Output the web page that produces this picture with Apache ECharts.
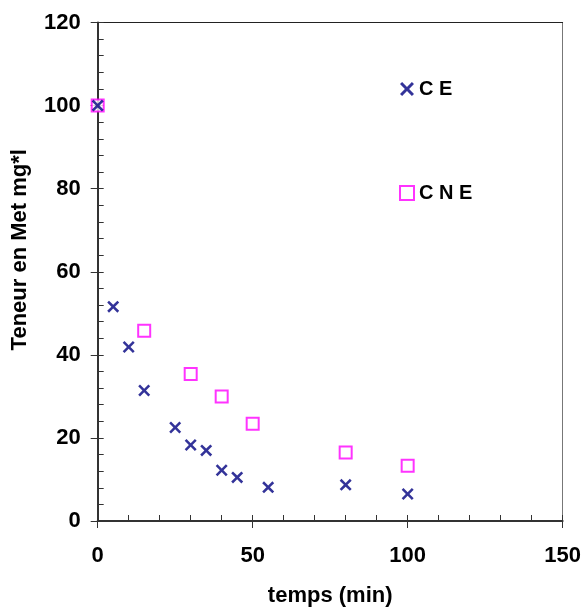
<!DOCTYPE html>
<html>
<head>
<meta charset="utf-8">
<script src="https://cdn.jsdelivr.net/npm/echarts@6/dist/echarts.min.js"></script>
<style>
html,body{margin:0;padding:0;background:#fff;}
#main{width:584px;height:612px;}
</style>
</head>
<body>
<div id="main"></div>
<script>
// Data
var timeCE = [0, 5, 10, 15, 25, 30, 35, 40, 45, 55, 80, 100];
var valCE = [100, 51.6, 41.9, 31.4, 22.5, 18.3, 17.0, 12.2, 10.5, 8.1, 8.7, 6.5];
var timeCNE = [0, 15, 30, 40, 50, 80, 100];
var valCNE = [100, 45.8, 35.4, 30.0, 23.4, 16.5, 13.3];
var seriesNames = ['C E', 'C N E'];
var xTitle = 'temps (min)';
var yTitle = 'Teneur en Met mg*l';

var FONT = '"Liberation Sans", Arial, sans-serif';
var crossPath = 'path://M0,1.5L1.5,0L5,3.5L8.5,0L10,1.5L6.5,5L10,8.5L8.5,10L5,6.5L1.5,10L0,8.5L3.5,5Z';

function pairs(xs, ys) { return xs.map(function (x, i) { return [x, ys[i]]; }); }

var chart = echarts.init(document.getElementById('main'), null, {renderer: 'canvas'});
var hidden = {show: false};
chart.setOption({
  backgroundColor: '#fff',
  animation: false,
  grid: {left: 97.7, top: 22.5, right: 20.3, bottom: 86, containLabel: false},
  legend: {
    data: seriesNames,
    orient: 'vertical',
    left: 394,
    top: 74,
    itemWidth: 14,
    itemHeight: 14,
    itemGap: 84,
    textStyle: {fontFamily: FONT, fontWeight: 'bold', fontSize: 20, color: '#000'},
    selectedMode: false
  },
  xAxis: [
    {
      type: 'value', min: 0, max: 150, interval: 50, position: 'bottom',
      name: xTitle, nameLocation: 'middle', nameGap: 64,
      nameTextStyle: {fontFamily: FONT, fontWeight: 'bold', fontSize: 22, color: '#000'},
      axisLine: {show: true, onZero: false, lineStyle: {color: '#333', width: 2}},
      axisTick: {show: true, inside: false, length: 7, lineStyle: {color: '#333', width: 1}},
      axisLabel: {fontFamily: FONT, fontWeight: 'bold', fontSize: 22, color: '#000', margin: 24},
      splitLine: hidden
    },
    {
      type: 'value', min: 0, max: 150, interval: 10, position: 'bottom',
      axisLine: hidden, axisLabel: hidden, splitLine: hidden,
      axisTick: {show: true, inside: true, length: 6, lineStyle: {color: '#333', width: 1}}
    },
    {
      type: 'value', min: 0, max: 150, position: 'top',
      axisLine: {show: true, onZero: false, lineStyle: {color: '#222', width: 1}},
      axisTick: hidden, axisLabel: hidden, splitLine: hidden
    }
  ],
  yAxis: [
    {
      type: 'value', min: 0, max: 120, interval: 20, position: 'left',
      name: yTitle, nameLocation: 'middle', nameGap: 67, nameRotate: 90,
      nameTextStyle: {fontFamily: FONT, fontWeight: 'bold', fontSize: 22, color: '#000', padding: [0, 0, 0, 44]},
      axisLine: {show: true, onZero: false, lineStyle: {color: '#333', width: 2}},
      axisTick: {show: true, inside: false, length: 7, lineStyle: {color: '#333', width: 1}},
      axisLabel: {fontFamily: FONT, fontWeight: 'bold', fontSize: 22, color: '#000', margin: 17},
      splitLine: hidden
    },
    {
      type: 'value', min: 0, max: 120, interval: 4, position: 'left',
      axisLine: hidden, axisLabel: hidden, splitLine: hidden,
      axisTick: {show: true, inside: true, length: 6, lineStyle: {color: '#333', width: 1}}
    },
    {
      type: 'value', min: 0, max: 120, position: 'right',
      axisLine: {show: true, onZero: false, lineStyle: {color: '#777', width: 1}},
      axisTick: hidden, axisLabel: hidden, splitLine: hidden
    }
  ],
  series: [
    {
      name: seriesNames[0], type: 'scatter', xAxisIndex: 0, yAxisIndex: 0,
      symbol: crossPath, symbolSize: 12, z: 3,
      itemStyle: {color: '#000080'},
      data: pairs(timeCE, valCE)
    },
    {
      name: seriesNames[1], type: 'scatter', xAxisIndex: 0, yAxisIndex: 0,
      symbol: 'emptyRect', symbolSize: 12, z: 2,
      itemStyle: {color: '#ff00ff', borderWidth: 2},
      data: pairs(timeCNE, valCNE)
    }
  ]
});
</script>
</body>
</html>
